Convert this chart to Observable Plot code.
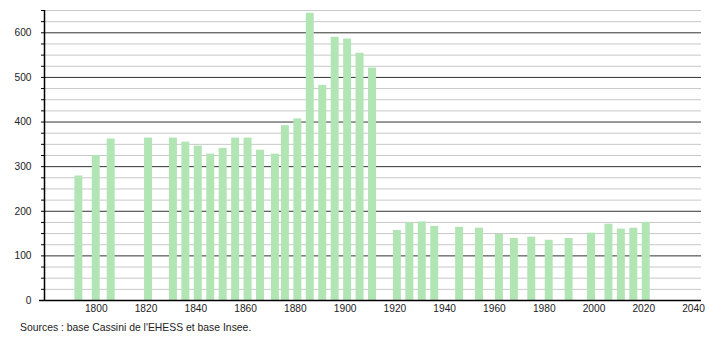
<!DOCTYPE html>
<html>
<head>
<meta charset="utf-8">
<script src="https://cdn.jsdelivr.net/npm/d3@7"></script>
<script src="https://cdn.jsdelivr.net/npm/@observablehq/plot@0.6"></script>
<style>
  body { margin: 0; background: #fff; }
  #caption { font: 10.4px "Liberation Sans", Arial, sans-serif; color: #222; padding-left: 20px; line-height: 20px; height: 22px; }
</style>
</head>
<body>
<div id="chart"></div>
<div id="caption">Sources : base Cassini de l'EHESS et base Insee.</div>
<script>
const years = [1793, 1800, 1806, 1821, 1831, 1836, 1841, 1846, 1851, 1856, 1861, 1866, 1872, 1876, 1881, 1886, 1891, 1896, 1901, 1906, 1911, 1921, 1926, 1931, 1936, 1946, 1954, 1962, 1968, 1975, 1982, 1990, 1999, 2006, 2011, 2016, 2021];
const population = [279, 325, 362, 364, 364, 355, 346, 328, 341, 364, 364, 337, 328, 392, 407, 644, 482, 590, 586, 554, 521, 157, 174, 176, 166, 164, 162, 148, 139, 142, 135, 139, 151, 171, 160, 162, 175];
const xTicks = [1800, 1820, 1840, 1860, 1880, 1900, 1920, 1940, 1960, 1980, 2000, 2020, 2040];
const yTicks = [0, 100, 200, 300, 400, 500, 600];
const gridValues = d3.range(0, 651, 25);

const data = years.map((y, i) => ({year: y, pop: population[i]}));
const halfBar = 1.6;

const chart = Plot.plot({
  width: 710,
  height: 318,
  marginLeft: 44,
  marginRight: 9,
  marginTop: 10,
  marginBottom: 18,
  style: {fontSize: "10.2px", fontFamily: "'Liberation Sans', Arial, sans-serif", color: "#222", background: "#fff"},
  x: {domain: [1779.2, 2043.2], label: null},
  y: {domain: [0, 650], label: null},
  marks: [
    Plot.ruleY(gridValues.filter(v => v % 100 !== 0 && v > 0), {stroke: "#c8c8c8", strokeWidth: 1}),
    Plot.ruleY(gridValues.filter(v => v % 100 === 0 && v > 0), {stroke: "#333", strokeWidth: 1}),
    Plot.rectY(data, {x1: d => d.year - halfBar, x2: d => d.year + halfBar, y: "pop", fill: "#b2e5b4"}),
    Plot.axisY({ticks: gridValues, tickSize: 3, tickFormat: () => "", stroke: "#000", label: null}),
    Plot.axisY({ticks: yTicks, tickSize: 0, tickPadding: 13, tickFormat: d => String(d), label: null}),
    Plot.ruleX([1779.2], {stroke: "#000", strokeWidth: 1.5}),
    Plot.ruleY([0], {stroke: "#000", strokeWidth: 1.5, insetLeft: -5}),
    Plot.axisX({ticks: xTicks, tickSize: 0, tickPadding: 4, tickFormat: d => String(d), label: null})
  ]
});
document.getElementById("chart").appendChild(chart);
</script>
</body>
</html>
